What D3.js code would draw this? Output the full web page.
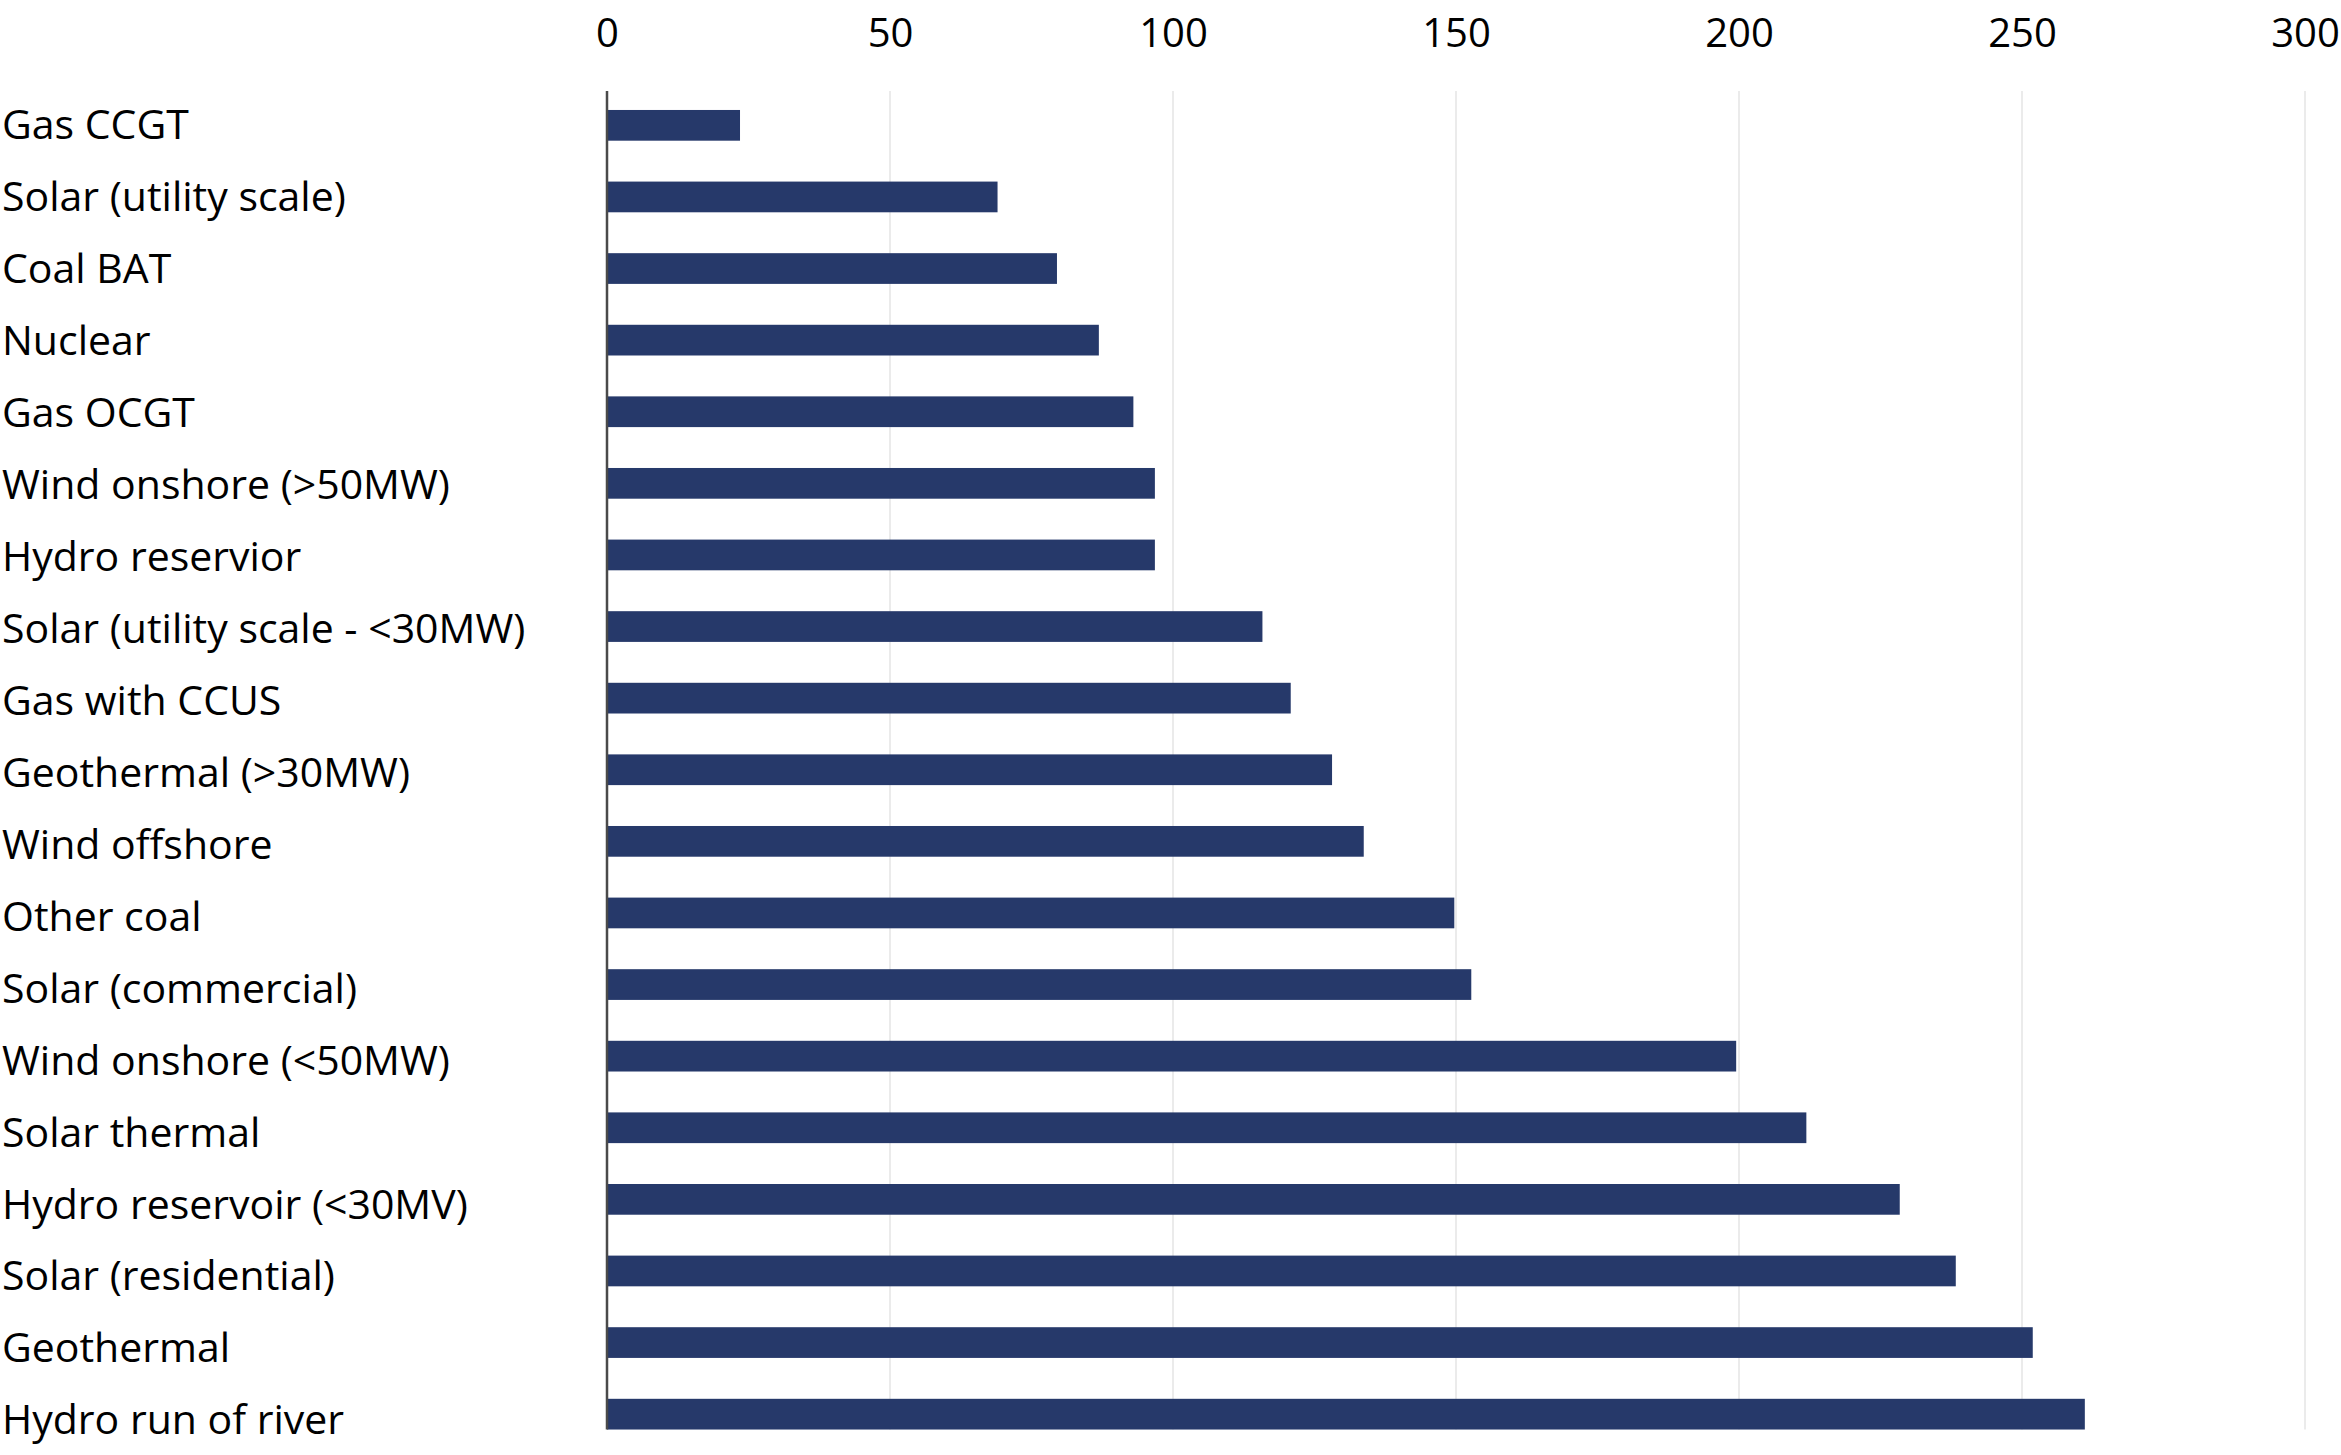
<!DOCTYPE html>
<meta charset="utf-8">
<head>
    <title>Cost by technology</title>
    <script type="text/javascript" src="https://cdn.jsdelivr.net/npm/d3@7"></script>
    <style>
        body { margin: 0; background: #fff; }
        text { font-family: "Open Sans", "Noto Sans", sans-serif; fill: #000; }
    </style>
</head>
<body>
    <div id="chart"></div>
    <script>
        // data
        const technologies = [
            "Gas CCGT", "Solar (utility scale)", "Coal BAT", "Nuclear", "Gas OCGT",
            "Wind onshore (>50MW)", "Hydro reservior", "Solar (utility scale - <30MW)",
            "Gas with CCUS", "Geothermal (>30MW)", "Wind offshore", "Other coal",
            "Solar (commercial)", "Wind onshore (<50MW)", "Solar thermal",
            "Hydro reservoir (<30MV)", "Solar (residential)", "Geothermal", "Hydro run of river"
        ];
        const costs = [
            23.5, 69.0, 79.5, 86.9, 93.0,
            96.8, 96.8, 115.8,
            120.8, 128.1, 133.7, 149.7,
            152.7, 199.5, 211.9,
            228.4, 238.3, 251.9, 261.1
        ];
        const tickValues = [0, 50, 100, 150, 200, 250, 300];

        const width = 2341;
        const height = 1455;
        const plotLeft = 607, plotRight = 2305, plotTop = 91;

        const svg = d3.select("#chart").append("svg")
            .attr("width", width)
            .attr("height", height);

        const x = d3.scaleLinear().domain([0, 300]).range([plotLeft, plotRight]);
        const y = d3.scaleBand()
            .domain(technologies)
            .range([plotTop, plotTop + 1357.5])
            .paddingInner(0.571)
            .paddingOuter(0.265);

        // category labels sit on a slightly wider pitch than the bars
        const yLabel = d3.scalePoint()
            .domain(technologies)
            .range([125, 1420]);

        const plotBottom = y(technologies[technologies.length - 1]) + y.bandwidth();

        // grid lines
        svg.append("g")
            .selectAll("line")
            .data(tickValues.slice(1))
            .enter()
            .append("line")
            .attr("x1", d => x(d))
            .attr("x2", d => x(d))
            .attr("y1", plotTop)
            .attr("y2", plotBottom)
            .attr("stroke", "#ebebeb")
            .attr("stroke-width", 2);

        // tick labels on top
        const axis = d3.axisTop(x)
            .tickValues(tickValues)
            .tickSize(0)
            .tickPadding(44.5)
            .tickFormat(d3.format("d"));

        svg.append("g")
            .attr("transform", "translate(0," + plotTop + ")")
            .call(axis)
            .call(g => g.select(".domain").remove())
            .selectAll("text")
            .style("font-family", "'Open Sans', sans-serif")
            .style("font-size", "40px")
            .attr("fill", "#000");

        // bars
        svg.append("g")
            .selectAll("rect")
            .data(technologies)
            .enter()
            .append("rect")
            .attr("x", x(0))
            .attr("y", d => y(d))
            .attr("width", (d, i) => x(costs[i]) - x(0))
            .attr("height", y.bandwidth())
            .attr("fill", "#26396a");

        // category labels
        svg.append("g")
            .selectAll("text")
            .data(technologies)
            .enter()
            .append("text")
            .attr("x", 2)
            .attr("y", d => yLabel(d))
            .attr("dy", "0.35em")
            .style("font-size", "41px")
            .text(d => d);

        // zero line
        svg.append("line")
            .attr("x1", x(0))
            .attr("x2", x(0))
            .attr("y1", plotTop)
            .attr("y2", plotBottom)
            .attr("stroke", "#4a4a4a")
            .attr("stroke-width", 2.5);
    </script>
</body>
